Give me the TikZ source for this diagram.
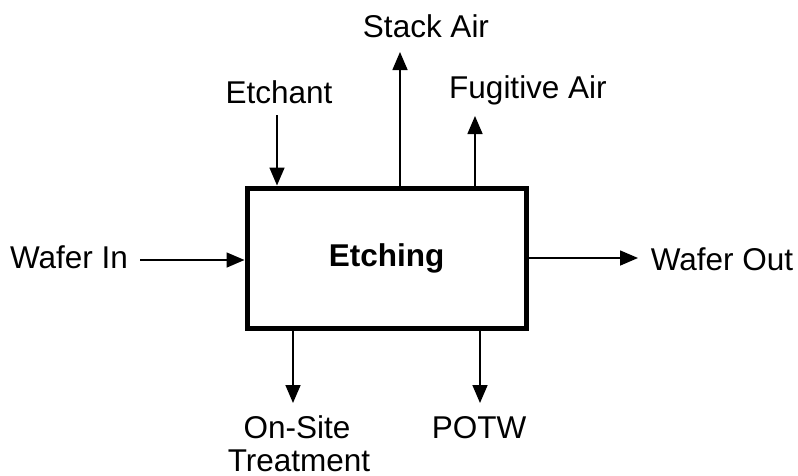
\documentclass[tikz,border=0pt]{standalone}
\usepackage{fontspec}
\setmainfont{Liberation Sans}
\usetikzlibrary{arrows.meta}
\begin{document}
\begin{tikzpicture}[x=1pt,y=-1pt,
  lbl/.style={font=\fontsize{31.5}{35}\selectfont, inner sep=0pt, anchor=base},
  arr/.style={line width=1.6pt, -{Triangle[length=18pt,width=15pt]}},
  procbox/.style={draw, line width=5pt, minimum width=279pt, minimum height=140pt, inner sep=0pt, font=\fontsize{31.5}{35}\selectfont\bfseries}]
\useasboundingbox (0,0) rectangle (798,475);
\node[procbox] (box) at (386.5,258) {Etching};
\node[lbl] (stack) at (426,37) {Stack Air};
\node[lbl] (fug) at (528,98) {Fugitive Air};
\node[lbl] (etch) at (279,103) {Etchant};
\node[lbl] (win) at (69,268) {Wafer In};
\node[lbl] (wout) at (722,270) {Wafer Out};
\node[lbl] (onsite) at (297,438) {On-Site};
\node[lbl] (treat) at (299,471.5) {Treatment};
\node[lbl] (potw) at (479,438) {POTW};
\coordinate (stackT) at (400,52);
\coordinate (fugT) at (475,116);
\coordinate (etchS) at (277,115);
\coordinate (winS) at (140,260);
\coordinate (woutT) at (638,258);
\coordinate (onsiteT) at (293,403);
\coordinate (potwT) at (480,403);
\draw[arr] (box.north -| stackT) -- (stackT);
\draw[arr] (box.north -| fugT) -- (fugT);
\draw[arr] (etchS) -- (box.north -| etchS);
\draw[arr] (winS) -- (box.west |- winS);
\draw[arr] (box.east |- woutT) -- (woutT);
\draw[arr] (box.south -| onsiteT) -- (onsiteT);
\draw[arr] (box.south -| potwT) -- (potwT);
\end{tikzpicture}
\end{document}
